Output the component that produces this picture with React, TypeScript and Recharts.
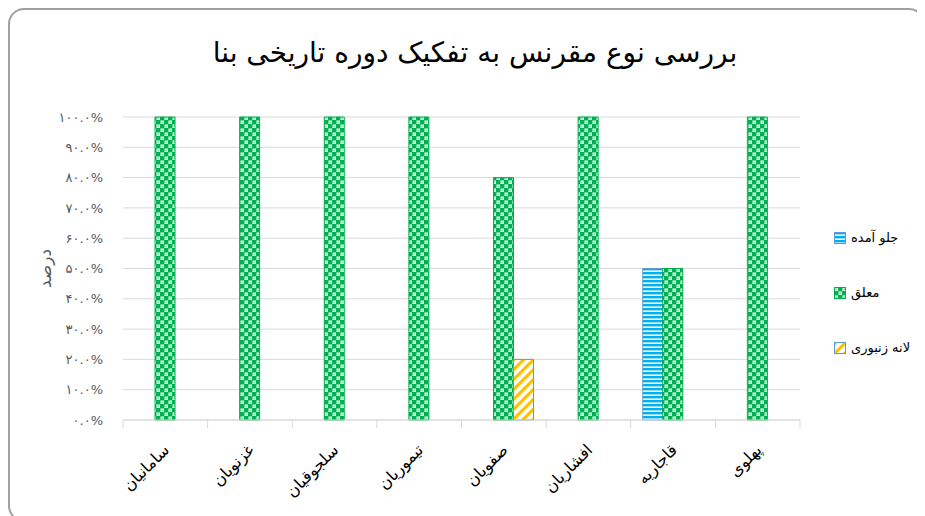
import React from 'react'
import { BarChart, Bar, XAxis, YAxis, CartesianGrid } from 'recharts'

// ── データ ──
const categories = ['سامانیان', 'غزنویان', 'سلجوقیان', 'تیموریان', 'صفویان', 'افشاریان', 'قاجاریه', 'پهلوی']
const jeloAmadeh = [null, null, null, null, null, null, 50, null]
const moallagh = [100, 100, 100, 100, 80, 100, 50, 100]
const lanehZanbouri = [null, null, null, null, 20, null, null, null]
const yTicks = [0, 10, 20, 30, 40, 50, 60, 70, 80, 90, 100]

const title = 'بررسی نوع مقرنس به تفکیک دوره تاریخی بنا'
const yTitle = 'درصد'

const series = [
  { key: 'jelo', name: 'جلو آمده', fill: 'url(#pBlue)', stroke: '#5B9BD5' },
  { key: 'moallagh', name: 'معلق', fill: 'url(#pGreen)', stroke: '#00B050' },
  { key: 'laneh', name: 'لانه زنبوری', fill: 'url(#pYellow)', stroke: '#5B9BD5' },
]

const data = categories.map((c, i) => ({
  name: c,
  jelo: jeloAmadeh[i],
  moallagh: moallagh[i],
  laneh: lanehZanbouri[i],
}))

const FA = 'DejaVu Sans, sans-serif'
const faDigits = (s: string) => s.replace(/\d/g, d => '۰۱۲۳۴۵۶۷۸۹'[+d])

// ── X軸ラベル（-45°）と区切り目盛 ──
function CatTick(props: any) {
  const { x, y, payload, width, visibleTicksCount, index } = props
  const band = width / visibleTicksCount
  const tx = x + 5
  const ty = y + 23
  return (
    <g>
      <line x1={x - band / 2} x2={x - band / 2} y1={y - 8} y2={y} stroke="#d9d9d9" />
      {index === visibleTicksCount - 1 && (
        <line x1={x + band / 2} x2={x + band / 2} y1={y - 8} y2={y} stroke="#d9d9d9" />
      )}
      <text
        x={tx} y={ty} textAnchor="end" fontSize={16} fill="#000"
        fontFamily={FA} transform={`rotate(-45, ${tx}, ${ty})`}
      >
        {payload.value}
      </text>
    </g>
  )
}

function YTitle(props: any) {
  const vb = props.viewBox
  const x = vb.x + 45
  const y = vb.y + vb.height / 2
  return (
    <text x={x} y={y} textAnchor="middle" dominantBaseline="central" fontSize={17}
      fill="#595959" fontFamily={FA} transform={`rotate(-90, ${x}, ${y})`}>
      {yTitle}
    </text>
  )
}

export default function App() {
  return (
    <div style={{ position: 'relative', width: 917, height: 508 }}>
      <style>{`body{overflow:hidden}`}</style>
      <div style={{
        position: 'absolute', left: 0, top: 0, width: 917, height: 514,
        border: '2px solid #a0a0a0', borderRadius: 16, boxSizing: 'border-box',
      }} />
      <div style={{ position: 'absolute', left: -8, top: -8 }}>
        <BarChart
          width={925} height={516} data={data}
          margin={{ top: 117, right: 125, bottom: 26, left: 0 }}
          barGap={0} barSize={20}
        >
          <defs>
            <pattern id="pBlue" width="4" height="4" patternUnits="userSpaceOnUse">
              <rect width="4" height="4" fill="#fff" />
              <rect width="4" height="2.4" fill="#00B0F0" />
            </pattern>
            <pattern id="pGreen" width="8" height="8" patternUnits="userSpaceOnUse">
              <rect width="8" height="8" fill="#00B050" />
              <rect x="0.5" y="0.5" width="3.5" height="3.5" fill="#fff" />
              <rect x="4.5" y="4.5" width="3.5" height="3.5" fill="#fff" />
              <circle cx="2.2" cy="2.2" r="1" fill="#00B050" opacity="0.5" />
              <circle cx="6.2" cy="6.2" r="1" fill="#00B050" opacity="0.5" />
            </pattern>
            <pattern id="pYellow" width="7" height="7" patternUnits="userSpaceOnUse" patternTransform="rotate(45)">
              <rect width="7" height="7" fill="#fff" />
              <rect width="3.2" height="7" fill="#FFC000" />
            </pattern>
          </defs>
          <CartesianGrid vertical={false} stroke="#d9d9d9" />
          <XAxis
            dataKey="name" height={70} tickLine={false}
            axisLine={{ stroke: '#d9d9d9' }} tick={<CatTick />} interval={0}
          />
          <YAxis
            width={123} domain={[0, 100]} ticks={yTicks} axisLine={false} tickLine={false}
            tickMargin={14} tickFormatter={v => faDigits(`${v}.0%`)}
            tick={{ fontSize: 13, fill: '#595959', fontFamily: FA }}
            label={<YTitle />}
          />
          {series.map(s => (
            <Bar key={s.key} dataKey={s.key} name={s.name} fill={s.fill}
              stroke={s.stroke} strokeWidth={1} isAnimationActive={false} />
          ))}
        </BarChart>
      </div>
      <div style={{
        position: 'absolute', left: 0, top: 28, width: 934, textAlign: 'center',
        fontFamily: FA, fontSize: 28, color: '#000', direction: 'rtl',
      }}>
        {title}
      </div>
      <div style={{ position: 'absolute', left: 826, top: 202, fontFamily: FA, fontSize: 13, color: '#000' }}>
        {series.map(s => (
          <div key={s.key} style={{ display: 'flex', alignItems: 'center', height: 55 }}>
            <svg width={12} height={12} style={{ marginRight: 5 }}>
              <rect x={0.5} y={0.5} width={11} height={11} fill={s.fill} stroke={s.stroke} />
            </svg>
            <span style={{ direction: 'rtl' }}>{s.name}</span>
          </div>
        ))}
      </div>
    </div>
  )
}
